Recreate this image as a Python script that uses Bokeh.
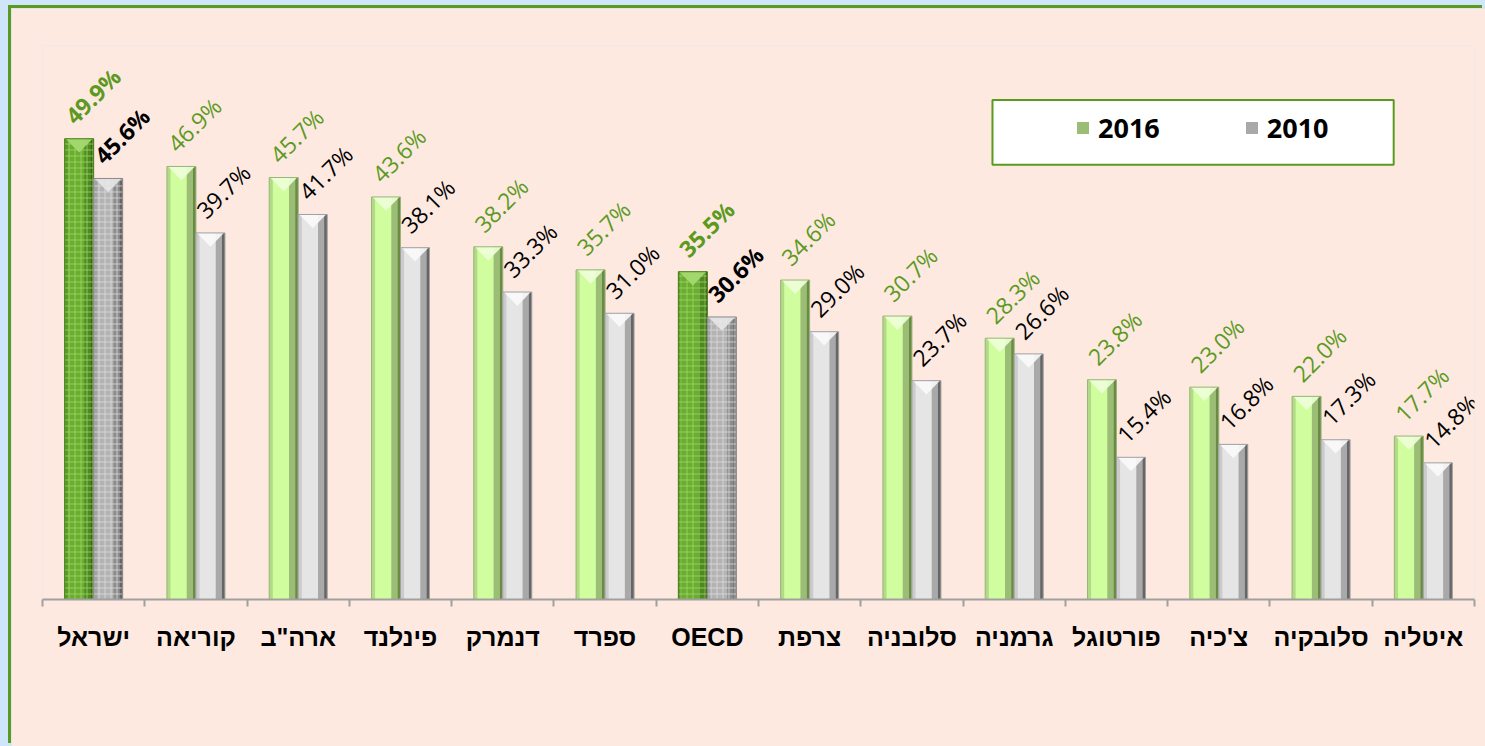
import math
from bokeh.plotting import figure
from bokeh.models import (ColumnDataSource, Range1d, FixedTicker, Legend, LegendItem,
                          BoxAnnotation)
from bokeh.embed import file_html
from bokeh.resources import INLINE

# ---------------- data ----------------
categories = ["ישראל", "קוריאה", 'ארה"ב', "פינלנד", "דנמרק", "ספרד", "OECD",
              "צרפת", "סלובניה", "גרמניה", "פורטוגל", "צ'כיה", "סלובקיה", "איטליה"]
values_2016 = [49.9, 46.9, 45.7, 43.6, 38.2, 35.7, 35.5, 34.6, 30.7, 28.3, 23.8, 23.0, 22.0, 17.7]
values_2010 = [45.6, 39.7, 41.7, 38.1, 33.3, 31.0, 30.6, 29.0, 23.7, 26.6, 15.4, 16.8, 17.3, 14.8]
highlighted = ["ישראל", "OECD"]
series_names = ["2016", "2010"]

# ---------------- styling ----------------
PEACH = "#FDE9E0"
GREEN_TXT = "#5B9A1E"
BW = 0.567          # bar width (x units, 2 units per category)
OFF = BW / 2        # dodge
LW = 0.07           # left shading strip
R1 = 0.12           # right mid strip
R2 = 0.06           # right dark strip
VH = 1.5            # depth of the top bevel (y units)

styles = {
    "2016": dict(normal=dict(body="#D0FE9E", left="#B2DA87", r1="#9CBD76", r2="#6B8A46", v="#EEFFD9",
                             line="#98B477", lab=GREEN_TXT),
                 hi=dict(body="#6AAE2E", left="#5B9D24", r1="#4E8A1E", r2="#3A6912", v="#A9DC72",
                         line="#4A7D1E", lab=GREEN_TXT, hatch="#A3D771")),
    "2010": dict(normal=dict(body="#E5E5E5", left="#CBCBCB", r1="#A9A9A9", r2="#666666", v="#FAFAFA",
                             line="#A0A0A0", lab="#000000"),
                 hi=dict(body="#B3B3B3", left="#A2A2A2", r1="#8C8C8C", r2="#666666", v="#E9E9E9",
                         line="#8A8A8A", lab="#000000", hatch="#DEDEDE")),
}

p = figure(width=1474, height=738, output_backend="svg", toolbar_location=None,
           x_range=Range1d(0, 2 * len(categories)), y_range=Range1d(0, 60),
           min_border_left=31, min_border_right=11, min_border_top=37, min_border_bottom=147)
p.background_fill_color = PEACH
p.border_fill_color = PEACH
p.outline_line_color = None
p.xgrid.visible = False
p.ygrid.visible = False
p.yaxis.visible = False
p.styles = {"box-shadow": "-3px -3px 0 0 #5B9A1E"}

centers = [2 * i + 1 for i in range(len(categories))]
legend_renderers = {}

for sname, vals, sign in (("2016", values_2016, -1), ("2010", values_2010, 1)):
    xs = [c + sign * OFF for c in centers]
    st = [styles[sname]["hi"] if cat in highlighted else styles[sname]["normal"] for cat in categories]
    src = ColumnDataSource(dict(
        x=xs, top=vals,
        body=[s["body"] for s in st], left=[s["left"] for s in st],
        r1=[s["r1"] for s in st], r2=[s["r2"] for s in st], line=[s["line"] for s in st],
        xl=[x - BW / 2 + LW / 2 for x in xs],
        xr1=[x + BW / 2 - R2 - R1 / 2 for x in xs],
        xr2=[x + BW / 2 - R2 / 2 for x in xs],
        lab=[f"{v:.1f}%" for v in vals],
        labc=[s["lab"] for s in st],
        fstyle=["bold" if cat in highlighted else "normal" for cat in categories],
        hatch_alpha=[0.75 if cat in highlighted else 0.0 for cat in categories],
    ))
    p.vbar(x="x", top="top", bottom=0, width=BW, source=src, fill_color="body", line_color=None)
    p.vbar(x="xl", top="top", bottom=0, width=LW, source=src, fill_color="left", line_color=None)
    r_mid = p.vbar(x="xr1", top="top", bottom=0, width=R1, source=src, fill_color="r1", line_color=None)
    p.vbar(x="xr2", top="top", bottom=0, width=R2, source=src, fill_color="r2", line_color=None)
    legend_renderers[sname] = r_mid
    # top bevel (V)
    vsrc = ColumnDataSource(dict(
        xs=[[x - BW / 2 + 0.02, x + BW / 2 - 0.02, x] for x in xs],
        ys=[[v, v, v - VH] for v in vals],
        c=[s["v"] for s in st],
    ))
    p.patches("xs", "ys", source=vsrc, fill_color="c", line_color=None, fill_alpha=0.9)
    # brick-like texture on highlighted bars
    hatch_col = styles[sname]["hi"]["hatch"]
    p.vbar(x="x", top="top", bottom=0, width=BW, source=src, fill_alpha=0, line_color=None,
           hatch_pattern="cross", hatch_color=hatch_col, hatch_alpha="hatch_alpha",
           hatch_scale=6, hatch_weight=1)
    p.vbar(x="x", top="top", bottom=0, width=BW, source=src, fill_alpha=0, line_color="line",
           line_width=1)
    # value labels
    p.text(x="x", y="top", text="lab", source=src, angle=math.pi / 4,
           text_align="left", text_baseline="alphabetic", x_offset=-10, y_offset=-19,
           text_color="labc", text_font_style="fstyle", text_font_size="23px",
           text_font={"value": "Open Sans"})

# axis
ax = p.xaxis[0]
ax.ticker = FixedTicker(ticks=centers, minor_ticks=list(range(0, 2 * len(categories) + 1, 2)))
ax.major_label_overrides = {c: cat for c, cat in zip(centers, categories)}
ax.major_tick_out = 0
ax.major_tick_in = 0
ax.minor_tick_out = 7
ax.minor_tick_in = 0
ax.minor_tick_line_color = "#A0A0A0"
ax.minor_tick_line_width = 2
ax.axis_line_color = "#A0A0A0"
ax.axis_line_width = 2
ax.major_label_text_font = "Liberation Sans"
ax.major_label_text_font_style = "bold"
ax.major_label_text_font_size = "25px"
ax.major_label_text_color = "#000000"
ax.major_label_standoff = 16

# legend box
box = BoxAnnotation(left=18.575, right=26.42, top=54.11, bottom=47.08,
                    fill_color="white", fill_alpha=1, line_color="#5B9A1E", line_alpha=1,
                    line_width=2)
p.add_layout(box)

legend = Legend(items=[LegendItem(label=series_names[0], renderers=[legend_renderers["2016"]], index=1),
                       LegendItem(label=series_names[1], renderers=[legend_renderers["2010"]], index=1)],
                orientation="horizontal", location=(1033, 453),
                background_fill_alpha=0, border_line_color=None,
                padding=0, margin=0, spacing=84,
                glyph_width=15, glyph_height=15, label_standoff=8,
                label_text_font="Open Sans", label_text_font_style="bold",
                label_text_font_size="27px", label_text_color="#000000")
p.add_layout(legend, "center")

html = file_html(p, INLINE)
html = html.replace(
    "</head>",
    "<style>html,body{background-color:#CFE5FA;}body{padding:8px 0 0 11px !important;}</style></head>", 1)
open("out.html", "w").write(html)
